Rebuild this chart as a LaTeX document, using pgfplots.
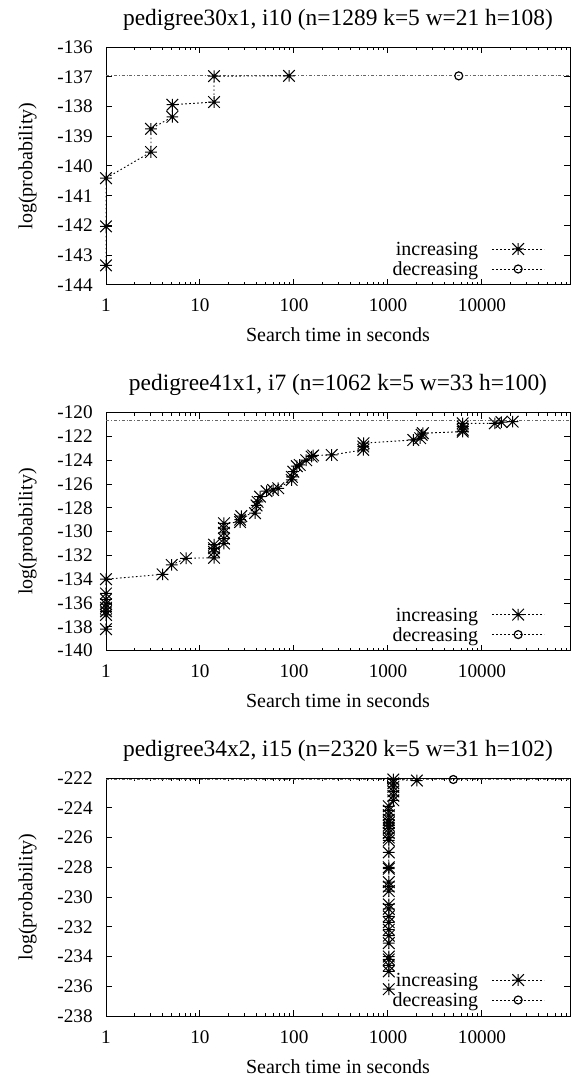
\documentclass[border=0pt]{standalone}
\usepackage{fontspec}
\setmainfont{Liberation Serif}
\usepackage{pgfplots}
\pgfplotsset{compat=1.18}

\pgfdeclareplotmark{gpstar}{%
  \pgfpathmoveto{\pgfqpoint{-\pgfplotmarksize}{0pt}}%
  \pgfpathlineto{\pgfqpoint{\pgfplotmarksize}{0pt}}%
  \pgfpathmoveto{\pgfqpoint{0pt}{-\pgfplotmarksize}}%
  \pgfpathlineto{\pgfqpoint{0pt}{\pgfplotmarksize}}%
  \pgfpathmoveto{\pgfqpoint{-\pgfplotmarksize}{-\pgfplotmarksize}}%
  \pgfpathlineto{\pgfqpoint{\pgfplotmarksize}{\pgfplotmarksize}}%
  \pgfpathmoveto{\pgfqpoint{-\pgfplotmarksize}{\pgfplotmarksize}}%
  \pgfpathlineto{\pgfqpoint{\pgfplotmarksize}{-\pgfplotmarksize}}%
  \pgfusepathqstroke}

\tikzset{
  incr/.style={black, line width=0.45pt, dash pattern=on 0.8pt off 1.2pt, mark=gpstar, mark size=2.9pt, mark options={solid, line width=0.5pt}},
  decr/.style={black, line width=0.45pt, dash pattern=on 0.8pt off 1.2pt, mark=o, mark size=2pt, mark options={solid, line width=0.6pt}},
  best/.style={black!60, line width=0.5pt, dash pattern=on 1.5pt off 1pt on 0.4pt off 1pt},
}

\pgfplotsset{
  legend image code/.code={\draw[mark repeat=2, mark phase=2, #1] plot coordinates {(0pt,0.9pt) (13pt,0.9pt) (26pt,0.9pt)};},
  scale only axis, width=232pt, height=119pt,
  clip=false,
  axis line style={line width=0.5pt},
  xmin=1, xmax=86400,
  tick align=inside, major tick length=3pt, minor tick length=1.5pt,
  every tick/.style={black, line width=0.5pt},
  ticklabel style={font=\fontsize{9.6}{11}\selectfont},
  xticklabel style={anchor=base, inner sep=0pt, yshift=-13.5pt},
  yticklabel style={anchor=east, inner sep=0pt, xshift=-6.5pt},
  label style={font=\fontsize{10}{12}\selectfont},
  xlabel style={at={(axis description cs:0.5,0)}, anchor=base, yshift=-28.5pt},
  ylabel style={at={(axis description cs:-0.169,0.5)}, anchor=center},
  title style={font=\fontsize{11.7}{14}\selectfont, at={(axis description cs:0.5,1)}, anchor=base, yshift=5pt},
  legend cell align=right,
  legend plot pos=right,
  legend style={draw=none, fill=none, at={(axis description cs:1,0)}, anchor=south east,
    xshift=-12.5pt, yshift=2.3pt, inner sep=0pt, row sep=0.8pt, column sep=6.8pt,
    font=\fontsize{10}{12}\selectfont,
    nodes={inner sep=0pt, text height=7pt, text depth=2.2pt}},
}

\begin{document}
\begin{tikzpicture}
\useasboundingbox (-53pt,-397pt) rectangle (233pt,142.5pt);

% ---------- Plot 1 ----------
\begin{axis}[xmode=log, at={(0pt,0pt)},
  xtick={1,10,100,1000,10000}, xticklabels={1,10,100,1000,10000},
  minor xtick={2,3,4,5,6,7,8,9,20,30,40,50,60,70,80,90,200,300,400,500,600,700,800,900,2000,3000,4000,5000,6000,7000,8000,9000,20000,30000,40000,50000,60000,70000,80000},
  /pgf/number format/assume math mode=true,
  xlabel={Search time in seconds}, ylabel={log(probability)},
  ymin=-144, ymax=-136, ytick={-144,-143,...,-136},
  title={pedigree30x1, i10 (n=1289 k=5 w=21 h=108)}]
\addplot[best, forget plot] coordinates {(1,-136.97) (86400,-136.97)};
\addplot[incr] coordinates {
 (1,-143.34) (1,-142.03) (1,-140.41) (3.01,-139.53) (3.01,-138.75)
 (5.08,-138.35) (5.08,-137.94) (14.1,-137.85) (14.1,-136.98) (88.5,-136.97)};
\addlegendentry{increasing}
\addplot[decr] coordinates {(5660,-136.97)};
\addlegendentry{decreasing}
\end{axis}

% ---------- Plot 2 ----------
\begin{axis}[xmode=log, at={(0pt,-182.8pt)},
  xtick={1,10,100,1000,10000}, xticklabels={1,10,100,1000,10000},
  minor xtick={2,3,4,5,6,7,8,9,20,30,40,50,60,70,80,90,200,300,400,500,600,700,800,900,2000,3000,4000,5000,6000,7000,8000,9000,20000,30000,40000,50000,60000,70000,80000},
  /pgf/number format/assume math mode=true,
  xlabel={Search time in seconds}, ylabel={log(probability)},
  ymin=-140, ymax=-120, ytick={-140,-138,...,-120},
  title={pedigree41x1, i7 (n=1062 k=5 w=33 h=100)}]
\addplot[best, forget plot] coordinates {(1,-120.7) (86400,-120.7)};
\addplot[incr] coordinates {
 (1,-138.2) (1,-137.0) (1,-136.7) (1,-136.4) (1,-136.1) (1,-135.7) (1,-135.2) (1,-134.0)
 (4.0,-133.59) (5.0,-132.8) (7.1,-132.24)
 (14.1,-132.2) (14.1,-131.7) (14.1,-131.4) (14.1,-131.1)
 (18,-131.0) (18,-130.6) (18,-130.1) (18,-129.7) (18,-129.3)
 (26.7,-129.2) (26.7,-129.0) (27.5,-128.7)
 (38.5,-128.45) (40,-127.8) (41,-127.5) (43.5,-127.06)
 (51,-126.6) (60,-126.5) (68,-126.36)
 (94.5,-125.66) (95,-125.4) (98.4,-124.96)
 (107,-124.5) (115,-124.4) (135,-124.0) (154,-123.7) (160,-123.6)
 (252,-123.56)
 (546,-123.13) (546,-122.85) (550,-122.57)
 (1860,-122.3) (2200,-122.15) (2281,-121.87) (2350,-121.73)
 (6237,-121.6) (6237,-121.45) (6237,-121.17) (6237,-120.9)
 (13700,-120.9) (16100,-120.8) (21200,-120.76)};
\addlegendentry{increasing}
\addlegendimage{decr}
\addlegendentry{decreasing}
\end{axis}

% ---------- Plot 3 ----------
\begin{axis}[xmode=log, at={(0pt,-365.5pt)},
  xtick={1,10,100,1000,10000}, xticklabels={1,10,100,1000,10000},
  minor xtick={2,3,4,5,6,7,8,9,20,30,40,50,60,70,80,90,200,300,400,500,600,700,800,900,2000,3000,4000,5000,6000,7000,8000,9000,20000,30000,40000,50000,60000,70000,80000},
  /pgf/number format/assume math mode=true,
  xlabel={Search time in seconds}, ylabel={log(probability)},
  ymin=-238, ymax=-222, ytick={-238,-236,...,-222},
  title={pedigree34x2, i15 (n=2320 k=5 w=31 h=102)}]
\addplot[best, forget plot] coordinates {(1,-222.12) (86400,-222.12)};
\addplot[incr] coordinates {
 (1020,-236.2) (1020,-235.0) (1020,-234.6) (1020,-234.2) (1020,-234.0)
 (1020,-233.1) (1020,-232.6) (1020,-232.2) (1020,-231.7) (1020,-231.3)
 (1020,-230.8) (1020,-230.5) (1020,-229.6) (1020,-229.3) (1020,-229.0)
 (1020,-228.1) (1020,-228.0) (1020,-227.0) (1020,-226.2) (1020,-226.0)
 (1020,-225.7) (1020,-225.4) (1020,-225.2) (1020,-225.0) (1020,-224.8)
 (1020,-224.5) (1020,-224.2) (1020,-223.9)
 (1140,-223.5) (1140,-223.2) (1140,-222.9) (1140,-222.6) (1140,-222.35) (1140,-222.1)
 (2030,-222.17)};
\addlegendentry{increasing}
\addplot[decr] coordinates {(4950,-222.1)};
\addlegendentry{decreasing}
\end{axis}
\end{tikzpicture}
\end{document}
